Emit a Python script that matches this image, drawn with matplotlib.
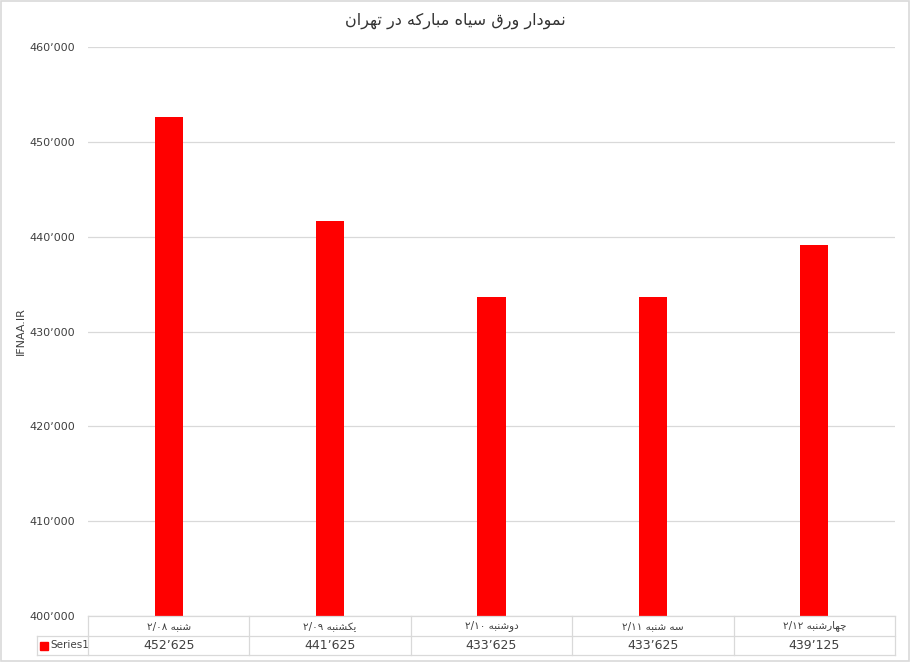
import re
import numpy as np
import matplotlib.pyplot as plt
from matplotlib.patches import Rectangle

# data ##########################
title = 'نمودار ورق سیاه مبارکه در تهران'
categories = ['شنبه ۲/۰۸', 'یکشنبه ۲/۰۹', 'دوشنبه ۲/۱۰', 'سه شنبه ۲/۱۱', 'چهارشنبه ۲/۱۲']
values = [452625, 441625, 433625, 433625, 439125]
series_name = 'Series1'
y_label = 'IFNAA.IR'
y_ticks = [400000, 410000, 420000, 430000, 440000, 450000, 460000]

# arabic shaping (no reshaper lib in sandbox) ##############
FORMS = {  # iso, fin, ini, med
    'ا': (0xFE8D, 0xFE8E, 0xFE8D, 0xFE8E),
    'ب': (0xFE8F, 0xFE90, 0xFE91, 0xFE92),
    'ت': (0xFE95, 0xFE96, 0xFE97, 0xFE98),
    'د': (0xFEA9, 0xFEAA, 0xFEA9, 0xFEAA),
    'ر': (0xFEAD, 0xFEAE, 0xFEAD, 0xFEAE),
    'س': (0xFEB1, 0xFEB2, 0xFEB3, 0xFEB4),
    'ش': (0xFEB5, 0xFEB6, 0xFEB7, 0xFEB8),
    'ق': (0xFED5, 0xFED6, 0xFED7, 0xFED8),
    'م': (0xFEE1, 0xFEE2, 0xFEE3, 0xFEE4),
    'ن': (0xFEE5, 0xFEE6, 0xFEE7, 0xFEE8),
    'ه': (0xFEE9, 0xFEEA, 0xFEEB, 0xFEEC),
    'و': (0xFEED, 0xFEEE, 0xFEED, 0xFEEE),
    'ی': (0xFBFC, 0xFBFD, 0xFBFE, 0xFBFF),
    'ک': (0xFB8E, 0xFB8F, 0xFB90, 0xFB91),
    'چ': (0xFB7A, 0xFB7B, 0xFB7C, 0xFB7D),
}
RIGHT_ONLY = set('ادرو')


def fa(text):
    out = []
    for i, c in enumerate(text):
        if c not in FORMS:
            out.append(c)
            continue
        prev = text[i - 1] if i > 0 else ''
        nxt = text[i + 1] if i + 1 < len(text) else ''
        jp = prev in FORMS and prev not in RIGHT_ONLY
        jn = c not in RIGHT_ONLY and nxt in FORMS
        f = FORMS[c]
        k = 3 if (jp and jn) else 1 if jp else 2 if jn else 0
        out.append(chr(f[k]))
    s = ''.join(out)
    runs = re.findall(r'[0-9۰-۹/]+|[^0-9۰-۹/]+', s)
    return ''.join(r if re.match(r'[0-9۰-۹/]', r) else r[::-1] for r in runs[::-1])


def num(v):
    return f'{v:,}'.replace(',', '\u066c')


plt.rcParams['font.family'] = ['DejaVu Sans']
grid_c = '#d9d9d9'
txt_c = '#404040'

fig = plt.figure(figsize=(9.1, 6.62), dpi=100, facecolor='w')
ax = fig.add_axes([88 / 910, 46 / 662, 807 / 910, 569 / 662])

x = np.arange(len(values))
ax.bar(x, values, width=0.175, color='#ff0000', zorder=3)
ax.set_xlim(-0.5, len(values) - 0.5)
ax.set_ylim(y_ticks[0], y_ticks[-1])
ax.set_yticks(y_ticks)
ax.set_yticklabels([num(t) for t in y_ticks], fontsize=8, color=txt_c)
ax.tick_params(axis='y', length=0, pad=9)
ax.set_xticks([])
ax.grid(axis='y', color=grid_c, linewidth=0.9, zorder=0)
for sp in ax.spines.values():
    sp.set_visible(False)
ax.set_ylabel(y_label, fontsize=8, color=txt_c)
ax.yaxis.set_label_coords(-62 / 807, 0.5)

# data table under the axis
r1 = -20 / 569
r2 = -39 / 569
n = len(values)
lk = dict(color=grid_c, linewidth=0.9, transform=ax.transAxes, clip_on=False, zorder=4)
ax.plot([0, 1], [0, 0], **lk)
ax.plot([-51 / 807, 1], [r1, r1], **lk)
ax.plot([-51 / 807, 1], [r2, r2], **lk)
ax.plot([-51 / 807, -51 / 807], [r1, r2], **lk)
for i in range(n + 1):
    ax.plot([i / n, i / n], [0, r2], **lk)
for i in range(n):
    ax.text((i + 0.5) / n, r1 / 2, fa(categories[i]), transform=ax.transAxes,
            ha='center', va='center', fontsize=7.5, color=txt_c)
    ax.text((i + 0.5) / n, (r1 + r2) / 2, num(values[i]), transform=ax.transAxes,
            ha='center', va='center', fontsize=9, color=txt_c)
ax.add_patch(Rectangle((-48 / 807, r1 - 14 / 569), 8 / 807, 8 / 569, color='#ff0000',
                       transform=ax.transAxes, clip_on=False))
ax.text(-38 / 807, (r1 + r2) / 2, series_name, transform=ax.transAxes,
        ha='left', va='center', fontsize=7.5, color=txt_c)

fig.text(0.5, 1 - 21 / 662, fa(title), ha='center', va='center', fontsize=11.5, color='#333333')
fig.patches.append(Rectangle((0.001, 0.0015), 0.998, 0.997, fill=False, edgecolor=grid_c,
                             linewidth=1.2, transform=fig.transFigure))

fig.savefig('out.png', dpi=100, facecolor='w')
